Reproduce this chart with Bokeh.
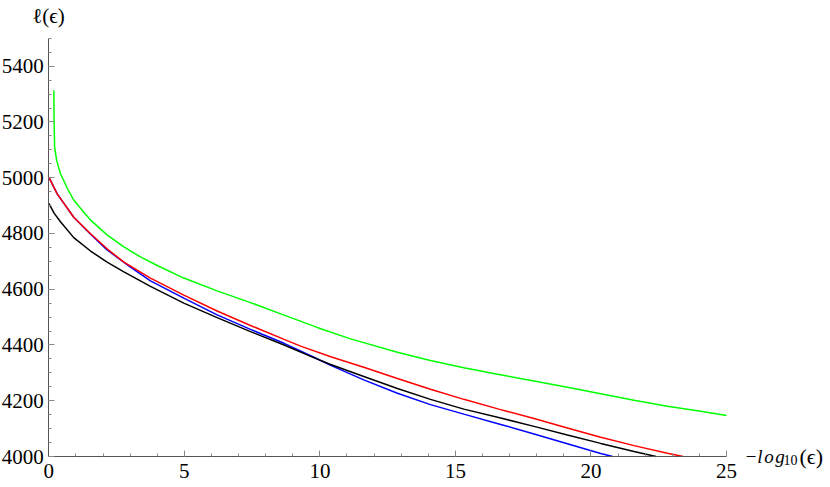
from bokeh.plotting import figure
from bokeh.models import Range1d, FixedTicker, Label
from bokeh.embed import file_html
from bokeh.resources import INLINE

# ---- tick values ----
x_major = [0, 5, 10, 15, 20, 25]
x_minor = list(range(0, 26))
y_major = [4000, 4200, 4400, 4600, 4800, 5000, 5200, 5400]
y_minor = list(range(4000, 5501, 50))

# ---- series ----
black_x = [0, 0.2, 0.43, 0.92, 1.54, 2.15, 2.77, 3.75, 4.98, 6.21, 7.44, 8.68, 9.66, 10.4,
           11.62, 12.86, 14.08, 15.31, 16.67, 17.9, 19.13, 20.36, 21.59, 22.4]
black_y = [4908, 4872, 4842, 4785, 4737, 4697, 4662, 4610, 4550, 4498, 4448, 4400, 4359, 4330,
           4287, 4244, 4205, 4170, 4138, 4108, 4077, 4047, 4018, 4000]

blue_x = [0, 0.31, 0.92, 1.54, 2.15, 3.0, 3.75, 4.98, 6.21, 7.44, 8.68, 9.78, 10.4,
          11.62, 12.86, 14.08, 15.31, 16.67, 17.9, 19.13, 20.36, 20.8]
blue_y = [5002, 4942, 4858, 4797, 4741, 4680, 4630, 4568, 4508, 4456, 4406, 4356, 4327,
          4275, 4227, 4186, 4152, 4115, 4081, 4046, 4011, 4000]

red_x = [0, 0.31, 0.92, 1.54, 2.15, 2.77, 3.75, 4.98, 6.21, 7.44, 8.68, 9.29, 10.4,
         11.62, 12.86, 14.08, 15.31, 16.6, 17.9, 19.13, 20.36, 21.59, 22.82, 23.4]
red_y = [5002, 4942, 4858, 4799, 4745, 4697, 4640, 4579, 4522, 4470, 4420, 4396, 4358,
         4320, 4280, 4241, 4205, 4170, 4136, 4102, 4069, 4039, 4012, 4000]

green_x = [0.185, 0.195, 0.215, 0.29, 0.43, 0.55, 0.68, 0.92, 1.29, 1.54, 2.15, 2.77, 3.38,
           4.0, 4.98, 6.21, 7.44, 8.68, 9.9, 11.13, 12.86, 14.08, 15.31, 16.55,
           17.9, 19.13, 20.36, 21.59, 22.82, 24.05, 25.0]
green_y = [5313, 5205, 5109, 5062, 5014, 4990, 4962, 4920, 4876, 4848, 4795, 4752, 4716,
           4685, 4640, 4594, 4552, 4507, 4463, 4422, 4374, 4344, 4318, 4295,
           4271, 4248, 4225, 4202, 4180, 4162, 4147]

SERIF = "Liberation Serif"

W, H = 830, 487
# pixel placement of the axes inside the canvas
X0_PX, X25_PX = 48.3, 726.0
Y4000_PX, Y5500_PX = 456.0, 37.8
sx = (X25_PX - X0_PX) / 25.0
sy = (Y4000_PX - Y5500_PX) / 1500.0

p = figure(width=W, height=H, output_backend="svg", toolbar_location=None,
           x_range=Range1d(-X0_PX / sx, (W - X0_PX) / sx),
           y_range=Range1d(4000 - (H - Y4000_PX) / sy, 4000 + Y4000_PX / sy),
           min_border_left=0, min_border_right=0, min_border_top=0, min_border_bottom=0)
p.title.visible = False
p.outline_line_color = None
p.xgrid.visible = False
p.ygrid.visible = False
p.background_fill_color = "white"
p.border_fill_color = "white"

p.line(blue_x, blue_y, line_color="#0000ff", line_width=1.5)
p.line(black_x, black_y, line_color="#000000", line_width=1.5)
p.line(red_x, red_y, line_color="#ff0000", line_width=1.5)
p.line(green_x, green_y, line_color="#00ff00", line_width=1.5)

p.xaxis.ticker = FixedTicker(ticks=x_major, minor_ticks=x_minor)
p.yaxis.ticker = FixedTicker(ticks=y_major, minor_ticks=y_minor)
p.xaxis.fixed_location = 4000
p.yaxis.fixed_location = 0
p.xaxis.bounds = (0, 25)
p.yaxis.bounds = (4000, 5500)

for ax in (p.xaxis[0], p.yaxis[0]):
    ax.axis_line_color = "#555555"
    ax.axis_line_width = 1
    ax.major_tick_in = 6
    ax.major_tick_out = 0
    ax.minor_tick_in = 3
    ax.minor_tick_out = 0
    ax.major_tick_line_color = "#888888"
    ax.minor_tick_line_color = "#888888"
    ax.major_label_text_font = SERIF
    ax.major_label_text_font_size = "21px"
    ax.major_label_text_color = "black"
p.xaxis.major_label_standoff = 7
p.yaxis.major_label_standoff = 5


def px_x(px):
    return (px - X0_PX) / sx


def px_y(py):
    return 4000 + (Y4000_PX - py) / sy


# y-axis title above the axis top
p.add_layout(Label(x=px_x(48), y=px_y(15), text="ℓ(ϵ)", text_align="center",
                   text_baseline="middle", text_font=SERIF, text_font_size="21px",
                   text_color="black"))
# x-axis title to the right of the axis end
p.add_layout(Label(x=px_x(744), y=px_y(456), text="−l\u200ao\u200ag", text_align="left",
                   text_baseline="middle", text_font=SERIF, text_font_size="19px",
                   text_font_style="italic", text_color="black"))
p.add_layout(Label(x=px_x(783), y=px_y(459), text="10", text_align="left",
                   text_baseline="middle", text_font=SERIF, text_font_size="14px",
                   text_color="black"))
p.add_layout(Label(x=px_x(799), y=px_y(456), text="(ϵ)", text_align="left",
                   text_baseline="middle", text_font=SERIF, text_font_size="22px",
                   text_color="black"))

open("out.html", "w").write(file_html(p, INLINE))
